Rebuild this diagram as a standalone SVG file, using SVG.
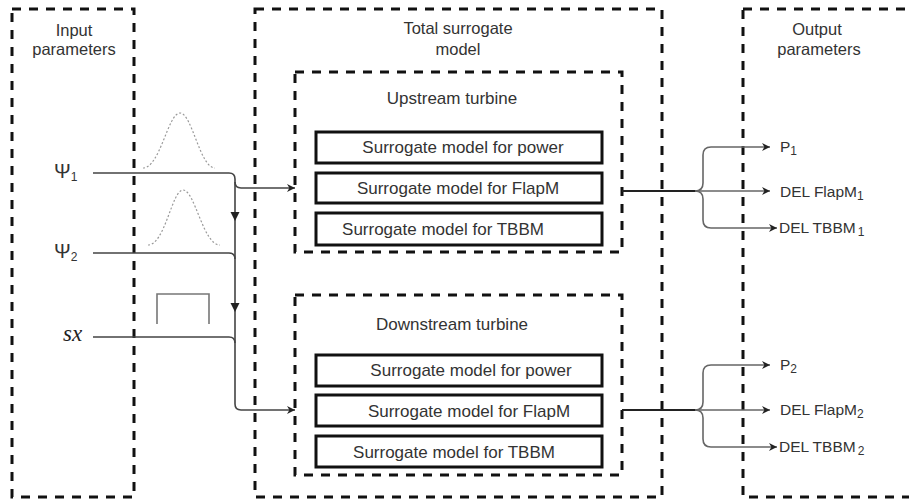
<svg xmlns="http://www.w3.org/2000/svg" width="909" height="499" viewBox="0 0 909 499">
<style>
.frame{fill:none;stroke:#111;stroke-width:3;stroke-dasharray:9 8}
.box{fill:#fff;stroke:#111;stroke-width:3}
.t{font-family:"Liberation Sans",Arial,sans-serif;fill:#333}
.head{font-size:16.5px;text-anchor:middle}
.bt{font-size:17px;text-anchor:middle}
.out{font-size:15.5px}
.sub{font-size:12px}
.conn{fill:none;stroke:#444;stroke-width:1.6}
.connb{fill:none;stroke:#222;stroke-width:2}
.oconn{fill:none;stroke:#666;stroke-width:1.6}
.dist{fill:none;stroke:#999;stroke-width:1.2;stroke-dasharray:2 2}
.uni{fill:none;stroke:#777;stroke-width:1.6}
</style>
<defs>
<marker id="arr" viewBox="0 0 10 10" refX="10" refY="5" markerWidth="9" markerHeight="8" markerUnits="userSpaceOnUse" orient="auto">
<path d="M0,0 L10,5 L0,10 L3,5 Z" fill="#222"/>
</marker>
</defs>
<rect width="909" height="499" fill="#fff"/>

<g id="input-parameters">
<rect class="frame" x="12" y="9" width="122" height="488"/>
<text class="t head" x="74" y="36">Input</text>
<text class="t head" x="74" y="55">parameters</text>
<text class="t" x="54" y="178" font-size="20">Ψ<tspan class="sub" dy="3">1</tspan></text>
<text class="t" x="54" y="258" font-size="20">Ψ<tspan class="sub" dy="3">2</tspan></text>
<text x="63" y="341" font-family="'Liberation Serif','Times New Roman',serif" font-style="italic" font-size="23" fill="#222">sx</text>
</g>

<g id="distributions">
<path class="dist" d="M143,168 C160,168 168,113 180,113 C192,113 200,168 215,168"/>
<path class="dist" d="M148,245 C165,245 172,190 183,190 C195,190 203,245 220,245"/>
<path class="uni" d="M157,324 V294 H209 V324"/>
</g>

<g id="total-surrogate-model">
<rect class="frame" x="255" y="9" width="407" height="488"/>
<text class="t head" x="458" y="34">Total surrogate</text>
<text class="t head" x="458" y="55">model</text>
</g>

<g id="upstream-turbine">
<rect class="frame" x="295" y="72" width="327" height="180"/>
<text class="t bt" x="452" y="104">Upstream turbine</text>
<rect class="box" x="316" y="132" width="286" height="31"/>
<text class="t bt" x="463" y="153">Surrogate model for power</text>
<rect class="box" x="316" y="173" width="286" height="30"/>
<text class="t bt" x="458" y="194">Surrogate model for FlapM</text>
<rect class="box" x="316" y="213" width="286" height="32"/>
<text class="t bt" x="443" y="235">Surrogate model for TBBM</text>
</g>

<g id="downstream-turbine">
<rect class="frame" x="295" y="295" width="327" height="180"/>
<text class="t bt" x="452" y="330">Downstream turbine</text>
<rect class="box" x="316" y="355" width="286" height="31"/>
<text class="t bt" x="471" y="376">Surrogate model for power</text>
<rect class="box" x="316" y="395" width="286" height="31"/>
<text class="t bt" x="469" y="417">Surrogate model for FlapM</text>
<rect class="box" x="316" y="436" width="286" height="31"/>
<text class="t bt" x="454" y="458">Surrogate model for TBBM</text>
</g>

<g id="output-parameters">
<rect class="frame" x="743" y="9" width="180" height="488"/>
<text class="t head" x="817" y="35">Output</text>
<text class="t head" x="819" y="55">parameters</text>
<text class="t out" x="780" y="152">P<tspan class="sub" dy="3">1</tspan></text>
<text class="t out" x="780" y="197">DEL FlapM<tspan class="sub" dy="3">1</tspan></text>
<text class="t out" x="779" y="233">DEL TBBM<tspan class="sub" dx="2" dy="3">1</tspan></text>
<text class="t out" x="780" y="370">P<tspan class="sub" dy="3">2</tspan></text>
<text class="t out" x="780" y="415">DEL FlapM<tspan class="sub" dy="3">2</tspan></text>
<text class="t out" x="779" y="452">DEL TBBM<tspan class="sub" dx="2" dy="3">2</tspan></text>
</g>

<g id="connectors">
<path class="conn" d="M93,173 H229 Q235,173 235,179 V404 Q235,410 241,410 H295" marker-end="url(#arr)"/>
<path class="conn" d="M235,182 Q235,188 241,188 H295" marker-end="url(#arr)"/>
<path class="conn" d="M93,253 H229 Q235,253 235,259"/>
<path class="conn" d="M93,337 H229 Q235,337 235,343"/>
<path d="M230.5,212 L239.5,212 L235,221 Z" fill="#222"/>
<path d="M230.5,303 L239.5,303 L235,312 Z" fill="#222"/>

<path class="connb" d="M622,191 H697"/>
<path class="oconn" d="M697,191 H770" marker-end="url(#arr)"/>
<path class="oconn" d="M695,191 Q703,191 703,183 V155 Q703,147 711,147 H770" marker-end="url(#arr)"/>
<path class="oconn" d="M695,191 Q703,191 703,199 V220 Q703,228 711,228 H777" marker-end="url(#arr)"/>

<path class="connb" d="M622,410 H697"/>
<path class="oconn" d="M697,410 H770" marker-end="url(#arr)"/>
<path class="oconn" d="M695,410 Q703,410 703,402 V373 Q703,365 711,365 H770" marker-end="url(#arr)"/>
<path class="oconn" d="M695,410 Q703,410 703,418 V439 Q703,447 711,447 H777" marker-end="url(#arr)"/>
</g>
</svg>
